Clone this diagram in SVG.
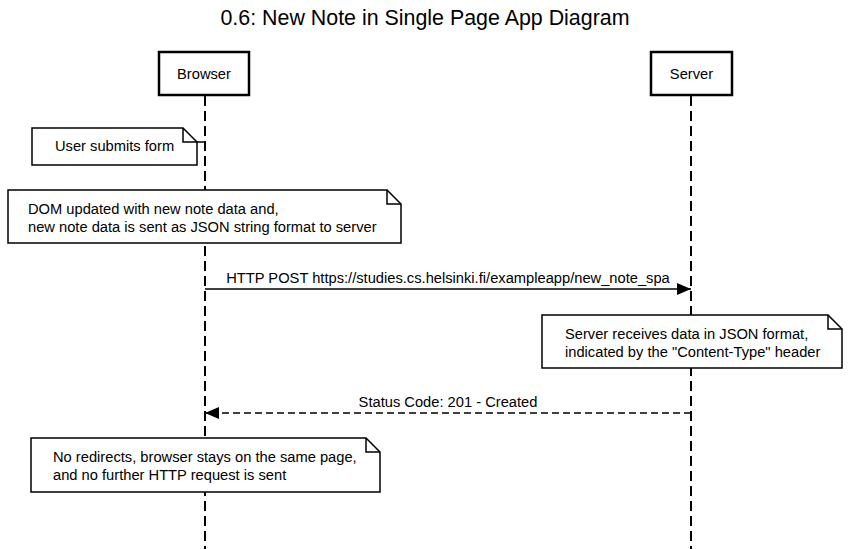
<svg xmlns="http://www.w3.org/2000/svg" width="850" height="549" viewBox="0 0 850 549">
<style>
text{font-family:"Liberation Sans",Arial,sans-serif;font-size:14.7px;fill:#000}
.title{font-size:21.4px}
.life{stroke:#000;stroke-width:2;stroke-dasharray:10 5;fill:none}
.actor{fill:#fff;stroke:#000;stroke-width:2.5}
.note{fill:#fff;stroke:#000;stroke-width:1.5}
.fold{fill:none;stroke:#000;stroke-width:1.5}
.msg{stroke:#000;stroke-width:1.5;fill:none}
.dash{stroke-dasharray:7 4}
</style>
<defs>
<marker id="ah" viewBox="0 0 14 12" refX="14" refY="6" markerWidth="14" markerHeight="12" markerUnits="userSpaceOnUse" orient="auto">
<path d="M0,0 L14,6 L0,12 Z" fill="#000"/>
</marker>
</defs>
<rect width="850" height="549" fill="#fff"/>
<text class="title" x="425" y="25" text-anchor="middle">0.6: New Note in Single Page App Diagram</text>
<g id="lifelines">
<line class="life" x1="205" y1="96" x2="205" y2="549"/>
<line class="life" x1="691" y1="96" x2="691" y2="549"/>
</g>
<g id="browser">
<rect class="actor" x="159" y="52" width="90" height="43"/>
<text x="204" y="79" text-anchor="middle">Browser</text>
</g>
<g id="server">
<rect class="actor" x="651" y="52" width="81" height="43"/>
<text x="691.5" y="79" text-anchor="middle">Server</text>
</g>
<g id="connectors">
<line class="msg" x1="197" y1="142" x2="205" y2="142"/>
<line class="msg" x1="205" y1="289" x2="691" y2="289" marker-end="url(#ah)"/>
<text x="448" y="283" text-anchor="middle">HTTP POST https://studies.cs.helsinki.fi/exampleapp/new_note_spa</text>
<line class="msg dash" x1="691" y1="413" x2="205" y2="413" marker-end="url(#ah)"/>
<text x="448" y="407" text-anchor="middle">Status Code: 201 - Created</text>
</g>
<g id="note1">
<path class="note" d="M32,128 H183 L197,142 V165 H32 Z"/>
<path class="fold" d="M183,128 V142 H197"/>
<text x="55" y="151">User submits form</text>
</g>
<g id="note2">
<path class="note" d="M8,190 H387 L401,204 V243 H8 Z"/>
<path class="fold" d="M387,190 V204 H401"/>
<text x="28" y="214">DOM updated with new note data and,</text>
<text x="28" y="232">new note data is sent as JSON string format to server</text>
</g>
<g id="note3">
<path class="note" d="M542,315 H828 L842,329 V368 H542 Z"/>
<path class="fold" d="M828,315 V329 H842"/>
<text x="565" y="339">Server receives data in JSON format,</text>
<text x="565" y="357">indicated by the "Content-Type" header</text>
</g>
<g id="note4">
<path class="note" d="M31,438 H366 L380,452 V492 H31 Z"/>
<path class="fold" d="M366,438 V452 H380"/>
<text x="53" y="462">No redirects, browser stays on the same page,</text>
<text x="53" y="480">and no further HTTP request is sent</text>
</g>
</svg>
